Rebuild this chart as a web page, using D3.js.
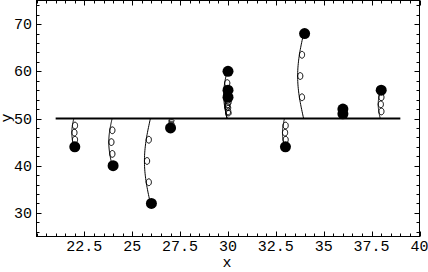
<!DOCTYPE html>
<html>
<head>
<meta charset="utf-8">
<script src="https://cdn.jsdelivr.net/npm/d3@7/dist/d3.min.js"></script>
<style>
  body { margin: 0; background: #fff; }
  svg { display: block; }
  text { font-family: "Liberation Mono", "DejaVu Sans Mono", monospace; fill: #000; }
</style>
</head>
<body>
<div id="chart"></div>
<script>
// Data: points hanging on springs from the line y = 50
var pointX = [22, 24, 26, 27, 30, 30, 30, 33, 34, 36, 36, 38];
var pointY = [44, 40, 32, 48, 60, 56, 54.5, 44, 68, 52, 51, 56];
var lineLevel = 50;
var lineRange = [21, 39];
var xTicks = [22.5, 25, 27.5, 30, 32.5, 35, 37.5, 40];
var yTicks = [30, 40, 50, 60, 70];

var width = 428, height = 272;
var frame = { left: 36.5, right: 419.5, top: 0.5, bottom: 236.5 };

var svg = d3.select("#chart").append("svg")
    .attr("width", width)
    .attr("height", height);

// Scales
var x = d3.scaleLinear().domain([20, 40]).range([frame.left, frame.right]);
var y = d3.scaleLinear().domain([25, 75]).range([frame.bottom, frame.top]);

// Frame
svg.append("rect")
    .attr("x", frame.left)
    .attr("y", frame.top)
    .attr("width", frame.right - frame.left)
    .attr("height", frame.bottom - frame.top)
    .attr("fill", "none")
    .attr("stroke", "#000")
    .attr("stroke-width", 1);

// Ticks on all four sides, pointing in
var xMinor = d3.range(20, 40.01, 0.5);
var yMinor = d3.range(26, 75, 2);
var tickG = svg.append("g").attr("stroke", "#000").attr("stroke-width", 1);
xMinor.forEach(function(v) {
    var major = xTicks.indexOf(v) >= 0;
    var len = major ? 5 : 3;
    var px = Math.round(x(v)) + 0.5;
    tickG.append("line").attr("x1", px).attr("x2", px)
        .attr("y1", frame.bottom).attr("y2", frame.bottom - len);
    tickG.append("line").attr("x1", px).attr("x2", px)
        .attr("y1", frame.top).attr("y2", frame.top + len);
});
yMinor.forEach(function(v) {
    var major = yTicks.indexOf(v) >= 0;
    var len = major ? 5 : 3;
    var py = Math.round(y(v)) + 0.5;
    tickG.append("line").attr("y1", py).attr("y2", py)
        .attr("x1", frame.left).attr("x2", frame.left + len);
    tickG.append("line").attr("y1", py).attr("y2", py)
        .attr("x1", frame.right).attr("x2", frame.right - len);
});

// Tick labels
svg.selectAll(".xlab").data(xTicks).enter().append("text")
    .attr("x", function(d) { return x(d); })
    .attr("y", 251)
    .attr("text-anchor", "middle")
    .style("font-size", "15px")
    .text(function(d) { return d; });
svg.selectAll(".ylab").data(yTicks).enter().append("text")
    .attr("x", 32)
    .attr("y", function(d) { return y(d) + 5; })
    .attr("text-anchor", "end")
    .style("font-size", "15px")
    .text(function(d) { return d; });

// Axis titles
svg.append("text")
    .attr("x", 227).attr("y", 267)
    .attr("text-anchor", "middle")
    .style("font-size", "15px")
    .text("x");
svg.append("text")
    .attr("transform", "translate(11," + 118 + ") rotate(-90)")
    .attr("text-anchor", "middle")
    .style("font-size", "15px")
    .text("y");

// Horizontal support line
svg.append("line")
    .attr("x1", x(lineRange[0])).attr("x2", x(lineRange[1]))
    .attr("y1", y(lineLevel)).attr("y2", y(lineLevel))
    .attr("stroke", "#000")
    .attr("stroke-width", 2);

// Springs: a bowed wire with 3 small loops on its right side
var spring = function(px, yStart, yEnd) {
    var L = Math.abs(yEnd - yStart);
    var dir = yEnd > yStart ? 1 : -1;
    var B = Math.min(6, L * 0.07);
    var rx = 2.6, ry = Math.min(3.4, L / 8);
    var base = function(s) {
        return [px - 1 - B * Math.sin(Math.PI * s), yStart + dir * L * s];
    };
    var pts = [];
    var loops = [0.25, 0.5, 0.75];
    var s0 = 0;
    loops.forEach(function(sk) {
        for (var i = 0; i <= 12; i++) {
            pts.push(base(s0 + (sk - s0) * i / 12));
        }
        var p = base(sk);
        for (var j = 1; j <= 24; j++) {
            var th = Math.PI + dir * 2 * Math.PI * j / 24;
            pts.push([p[0] + rx + rx * Math.cos(th), p[1] - dir * ry * Math.sin(th)]);
        }
        s0 = sk;
    });
    for (var i = 1; i <= 12; i++) {
        pts.push(base(s0 + (1 - s0) * i / 12));
    }
    return pts;
};
var line = d3.line();
svg.append("g").selectAll("path")
    .data(pointX)
    .enter()
    .append("path")
    .attr("d", function(d, i) {
        return line(spring(x(d), y(lineLevel), y(pointY[i])));
    })
    .attr("fill", "none")
    .attr("stroke", "#000")
    .attr("stroke-width", 1);

// Points
svg.append("g").selectAll("circle")
    .data(pointX)
    .enter()
    .append("circle")
    .attr("cx", function(d) { return x(d); })
    .attr("cy", function(d, i) { return y(pointY[i]); })
    .attr("r", 5.5)
    .attr("fill", "#000");
</script>
</body>
</html>
